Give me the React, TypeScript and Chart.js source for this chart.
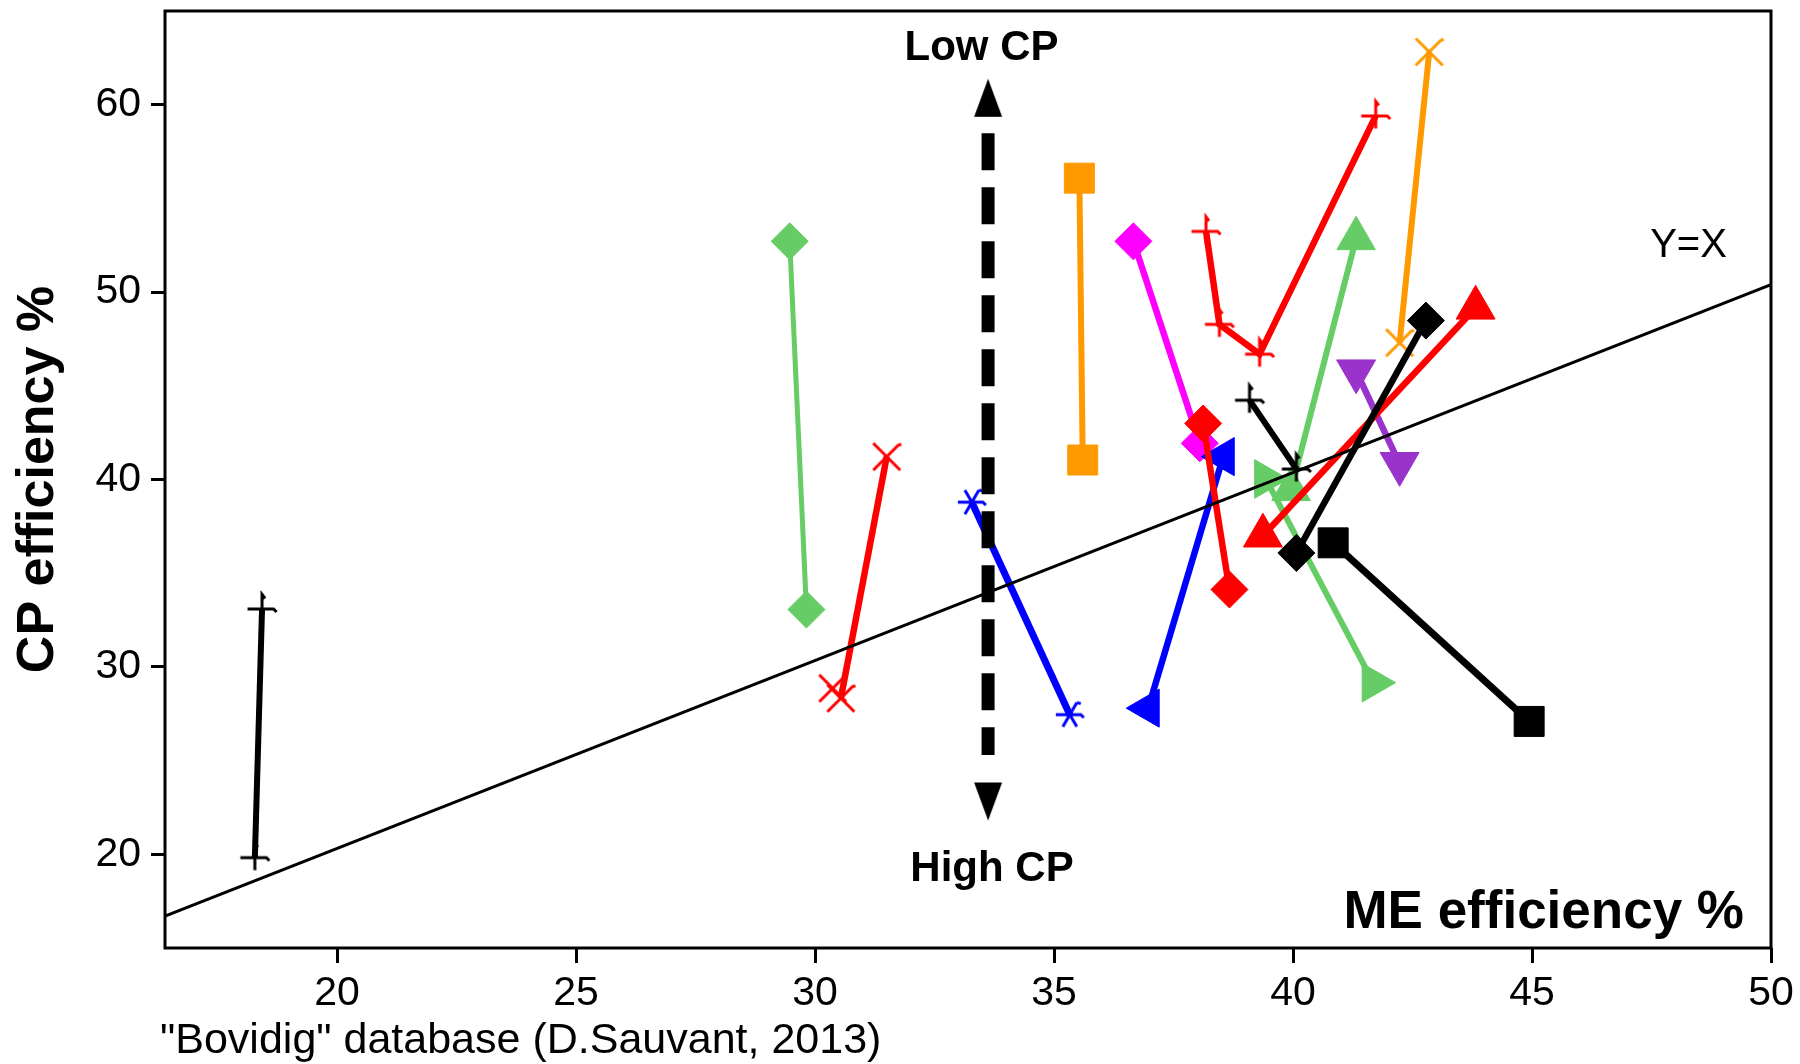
import React, { useEffect, useRef } from 'react';
import { Chart, registerables } from 'chart.js';

Chart.register(...registerables);

// ---- axes ----
const xTicks = [20, 25, 30, 35, 40, 45, 50];
const yTicks = [20, 30, 40, 50, 60];
const xMin = 16.4;
const xMax = 50;
const yMin = 15;
const yMax = 65;

// ---- series (x = ME efficiency %, y = CP efficiency %) ----
const blackPlusLeft = [{ x: 18.43, y: 33.09 }, { x: 18.28, y: 19.82 }];
const greenDiamond = [{ x: 29.47, y: 52.71 }, { x: 29.82, y: 33.06 }];
const redCross = [{ x: 31.5, y: 41.22 }, { x: 30.54, y: 28.33 }];
const redCrossExtra = [{ x: 30.37, y: 28.86 }];
const orangeSquare = [{ x: 35.53, y: 56.08 }, { x: 35.6, y: 41.04 }];
const blueAsterisk = [{ x: 33.28, y: 38.79 }, { x: 35.33, y: 27.45 }];
const blueLeftTriangle = [{ x: 36.97, y: 27.8 }, { x: 38.54, y: 41.22 }];
const magentaDiamond = [{ x: 36.66, y: 52.71 }, { x: 38.05, y: 41.93 }];
const redDiamond = [{ x: 38.12, y: 42.99 }, { x: 38.67, y: 34.13 }];
const redPlus = [{ x: 38.18, y: 53.24 }, { x: 38.46, y: 48.28 }, { x: 39.3, y: 46.69 }, { x: 41.73, y: 59.4 }];
const blackPlusRight = [{ x: 39.09, y: 44.23 }, { x: 40.07, y: 40.56 }];
const greenUpTriangle = [{ x: 41.32, y: 52.86 }, { x: 39.96, y: 39.47 }];
const greenRightTriangle = [{ x: 39.43, y: 40.03 }, { x: 41.68, y: 29.16 }];
const redUpTriangle = [{ x: 39.37, y: 37.0 }, { x: 43.82, y: 49.16 }];
const blackDiamond = [{ x: 40.07, y: 36.08 }, { x: 42.78, y: 48.48 }];
const blackSquare = [{ x: 40.84, y: 36.62 }, { x: 44.94, y: 27.09 }];
const orangeCross = [{ x: 42.85, y: 62.82 }, { x: 42.23, y: 47.3 }];
const purpleDownTriangle = [{ x: 41.32, y: 45.78 }, { x: 42.23, y: 40.84 }];

// ---- reference line and CP arrow ----
const yEqualsXLine = [{ x: 16.4, y: 16.7 }, { x: 50, y: 50.4 }];
const cpArrowShaft = [{ x: 33.62, y: 58.47 }, { x: 33.62, y: 25.3 }];
const cpArrowHeads = [{ x: 33.62, y: 60.37 }, { x: 33.62, y: 22.82 }];

const FONT = '"Liberation Sans", Arial, Helvetica, sans-serif';

const GREEN = '#66CC66';
const ORANGE = '#FF9900';
const MAGENTA = '#FF00FF';
const RED = '#FF0000';
const BLUE = '#0000FF';
const PURPLE = '#9933CC';
const BLACK = '#000000';

function markerCanvas(kind: string, color: string): HTMLCanvasElement {
  const c = document.createElement('canvas');
  const isArrow = kind === 'arrowUp' || kind === 'arrowDown';
  c.width = isArrow ? 30 : 40;
  c.height = 40;
  const g = c.getContext('2d') as CanvasRenderingContext2D;
  g.strokeStyle = color;
  g.fillStyle = color;
  g.lineWidth = 3;
  g.lineCap = 'butt';
  g.lineJoin = 'miter';
  const m = 20;
  if (kind === 'plus') {
    const r = 14.5;
    g.beginPath();
    g.moveTo(m - r, m);
    g.lineTo(m + r - 3, m);
    g.lineTo(m + r, m + 3);
    g.moveTo(m, m + r - 2);
    g.lineTo(m, m - r);
    g.lineTo(m + 3, m - r + 4);
    g.stroke();
  } else if (kind === 'cross') {
    const r = 13.5;
    g.beginPath();
    g.moveTo(m - r, m - r);
    g.lineTo(m + r, m + r);
    g.moveTo(m - r, m + r);
    g.lineTo(m + r - 2, m - r + 2);
    g.lineTo(m + r + 1, m - r + 1);
    g.stroke();
  } else if (kind === 'asterisk') {
    const r = 14;
    g.beginPath();
    g.moveTo(m - r, m);
    g.lineTo(m + r - 3, m);
    g.lineTo(m + r, m + 3);
    const angles = [Math.PI / 3, (2 * Math.PI) / 3];
    for (const a of angles) {
      g.moveTo(m + Math.cos(a) * r, m + Math.sin(a) * r);
      g.lineTo(m - Math.cos(a) * r, m - Math.sin(a) * r);
    }
    g.stroke();
    g.beginPath();
    g.moveTo(m + Math.cos(Math.PI / 3) * r, m - Math.sin(Math.PI / 3) * r);
    g.lineTo(m + Math.cos(Math.PI / 3) * r + 4, m - Math.sin(Math.PI / 3) * r + 1);
    g.stroke();
  } else if (kind === 'arrowUp') {
    g.beginPath();
    g.moveTo(15, 1);
    g.lineTo(29, 39);
    g.lineTo(1, 39);
    g.closePath();
    g.fill();
  } else if (kind === 'arrowDown') {
    g.beginPath();
    g.moveTo(15, 39);
    g.lineTo(29, 1);
    g.lineTo(1, 1);
    g.closePath();
    g.fill();
  }
  return c;
}

const framePlugin = {
  id: 'frameAndNotes',
  afterDraw(chart: any) {
    const { ctx, chartArea: a } = chart;
    ctx.save();
    ctx.strokeStyle = BLACK;
    ctx.lineWidth = 3;
    ctx.strokeRect(a.left, a.top, a.right - a.left, a.bottom - a.top);

    ctx.fillStyle = BLACK;
    ctx.textBaseline = 'alphabetic';

    ctx.font = `bold 42px ${FONT}`;
    ctx.textAlign = 'center';
    ctx.fillText('Low CP', 981.5, 60);
    ctx.fillText('High CP', 992, 881);

    ctx.font = `40px ${FONT}`;
    ctx.fillText('Y=X', 1688.5, 257);

    ctx.font = `bold 53px ${FONT}`;
    ctx.textAlign = 'right';
    ctx.fillText('ME efficiency %', 1744, 928);

    ctx.font = `43px ${FONT}`;
    ctx.textAlign = 'left';
    ctx.fillText('"Bovidig" database (D.Sauvant, 2013)', 160, 1053);

    ctx.save();
    ctx.font = `bold 52px ${FONT}`;
    ctx.textAlign = 'center';
    ctx.translate(53, 479.5);
    ctx.rotate(-Math.PI / 2);
    ctx.fillText('CP efficiency %', 0, 0);
    ctx.restore();

    ctx.restore();
  },
};

export default function App() {
  const ref = useRef<HTMLCanvasElement>(null);

  useEffect(() => {
    const canvas = ref.current;
    if (!canvas) return;

    const mk = (kind: string, color: string) => markerCanvas(kind, color);

    const series = (
      data: any[],
      color: string,
      style: any,
      radius: number,
      width: number,
      rotation = 0
    ) => ({
      data,
      showLine: true,
      borderColor: color,
      backgroundColor: color,
      borderWidth: width,
      tension: 0,
      pointStyle: style,
      pointRadius: radius,
      pointHoverRadius: radius,
      pointBackgroundColor: color,
      pointBorderColor: color,
      pointBorderWidth: 1,
      pointRotation: rotation,
    });

    const datasets: any[] = [
      {
        data: cpArrowHeads,
        showLine: false,
        pointStyle: [mk('arrowUp', BLACK), mk('arrowDown', BLACK)],
        pointRadius: 10,
        pointHoverRadius: 10,
      },
      {
        data: cpArrowShaft,
        showLine: true,
        borderColor: BLACK,
        borderWidth: 13,
        borderDash: [37, 17],
        borderCapStyle: 'butt',
        pointRadius: 0,
        pointHoverRadius: 0,
      },
      {
        data: yEqualsXLine,
        showLine: true,
        borderColor: BLACK,
        borderWidth: 3,
        pointRadius: 0,
        pointHoverRadius: 0,
      },
      series(redDiamond, RED, 'rectRot', 18.5, 6.5),
      series(blueLeftTriangle, BLUE, 'triangle', 22, 6.5, 270),
      series(magentaDiamond, MAGENTA, 'rectRot', 18.5, 6.5),
      series(blackPlusRight, BLACK, mk('plus', BLACK), 10, 6),
      series(blackDiamond, BLACK, 'rectRot', 18.5, 6.5),
      series(blackSquare, BLACK, 'rect', 21.2, 7),
      series(redUpTriangle, RED, 'triangle', 22.5, 6.5),
      series(greenUpTriangle, GREEN, 'triangle', 22.3, 6),
      series(greenRightTriangle, GREEN, 'triangle', 22.3, 6, 90),
      series(purpleDownTriangle, PURPLE, 'triangle', 22.5, 6.5, 180),
      series(orangeCross, ORANGE, mk('cross', ORANGE), 10, 6),
      series(redPlus, RED, mk('plus', RED), 10, 6.5),
      series(blueAsterisk, BLUE, mk('asterisk', BLUE), 10, 7),
      series(orangeSquare, ORANGE, 'rect', 21.2, 6),
      series(redCross, RED, mk('cross', RED), 10, 6.5),
      { ...series(redCrossExtra, RED, mk('cross', RED), 10, 6.5), showLine: false },
      series(greenDiamond, GREEN, 'rectRot', 18.5, 5),
      series(blackPlusLeft, BLACK, mk('plus', BLACK), 10, 6),
    ];

    const chart = new Chart(canvas, {
      type: 'scatter',
      data: { datasets },
      options: {
        animation: false,
        responsive: false,
        devicePixelRatio: 1,
        layout: { autoPadding: false, padding: { left: 0, right: 29, top: 11, bottom: 0 } },
        plugins: {
          legend: { display: false },
          tooltip: { enabled: false },
        },
        events: [],
        scales: {
          x: {
            type: 'linear',
            min: xMin,
            max: xMax,
            border: { display: false },
            grid: {
              drawOnChartArea: false,
              drawTicks: true,
              tickLength: 15,
              tickWidth: 3,
              tickColor: BLACK,
              color: BLACK,
            },
            ticks: {
              color: BLACK,
              padding: 6,
              maxRotation: 0,
              font: { family: FONT, size: 41 },
            },
            afterBuildTicks: (scale: any) => {
              scale.ticks = xTicks.map((v) => ({ value: v }));
            },
            afterFit: (scale: any) => {
              scale.height = 116;
              scale.paddingLeft = 0;
              scale.paddingRight = 0;
            },
          },
          y: {
            type: 'linear',
            min: yMin,
            max: yMax,
            border: { display: false },
            grid: {
              drawOnChartArea: false,
              drawTicks: true,
              tickLength: 14,
              tickWidth: 3,
              tickColor: BLACK,
              color: BLACK,
            },
            ticks: {
              color: BLACK,
              padding: 10,
              font: { family: FONT, size: 41 },
            },
            afterBuildTicks: (scale: any) => {
              scale.ticks = yTicks.map((v) => ({ value: v }));
            },
            afterFit: (scale: any) => {
              scale.width = 165;
              scale.paddingTop = 0;
              scale.paddingBottom = 0;
            },
          },
        },
      },
      plugins: [framePlugin],
    } as any);

    return () => chart.destroy();
  }, []);

  return (
    <div
      style={{
        position: 'absolute',
        left: 0,
        top: 0,
        width: 1800,
        height: 1064,
        background: '#ffffff',
      }}
    >
      <canvas
        ref={ref}
        width={1800}
        height={1064}
        style={{ width: 1800, height: 1064, display: 'block' }}
      />
    </div>
  );
}
